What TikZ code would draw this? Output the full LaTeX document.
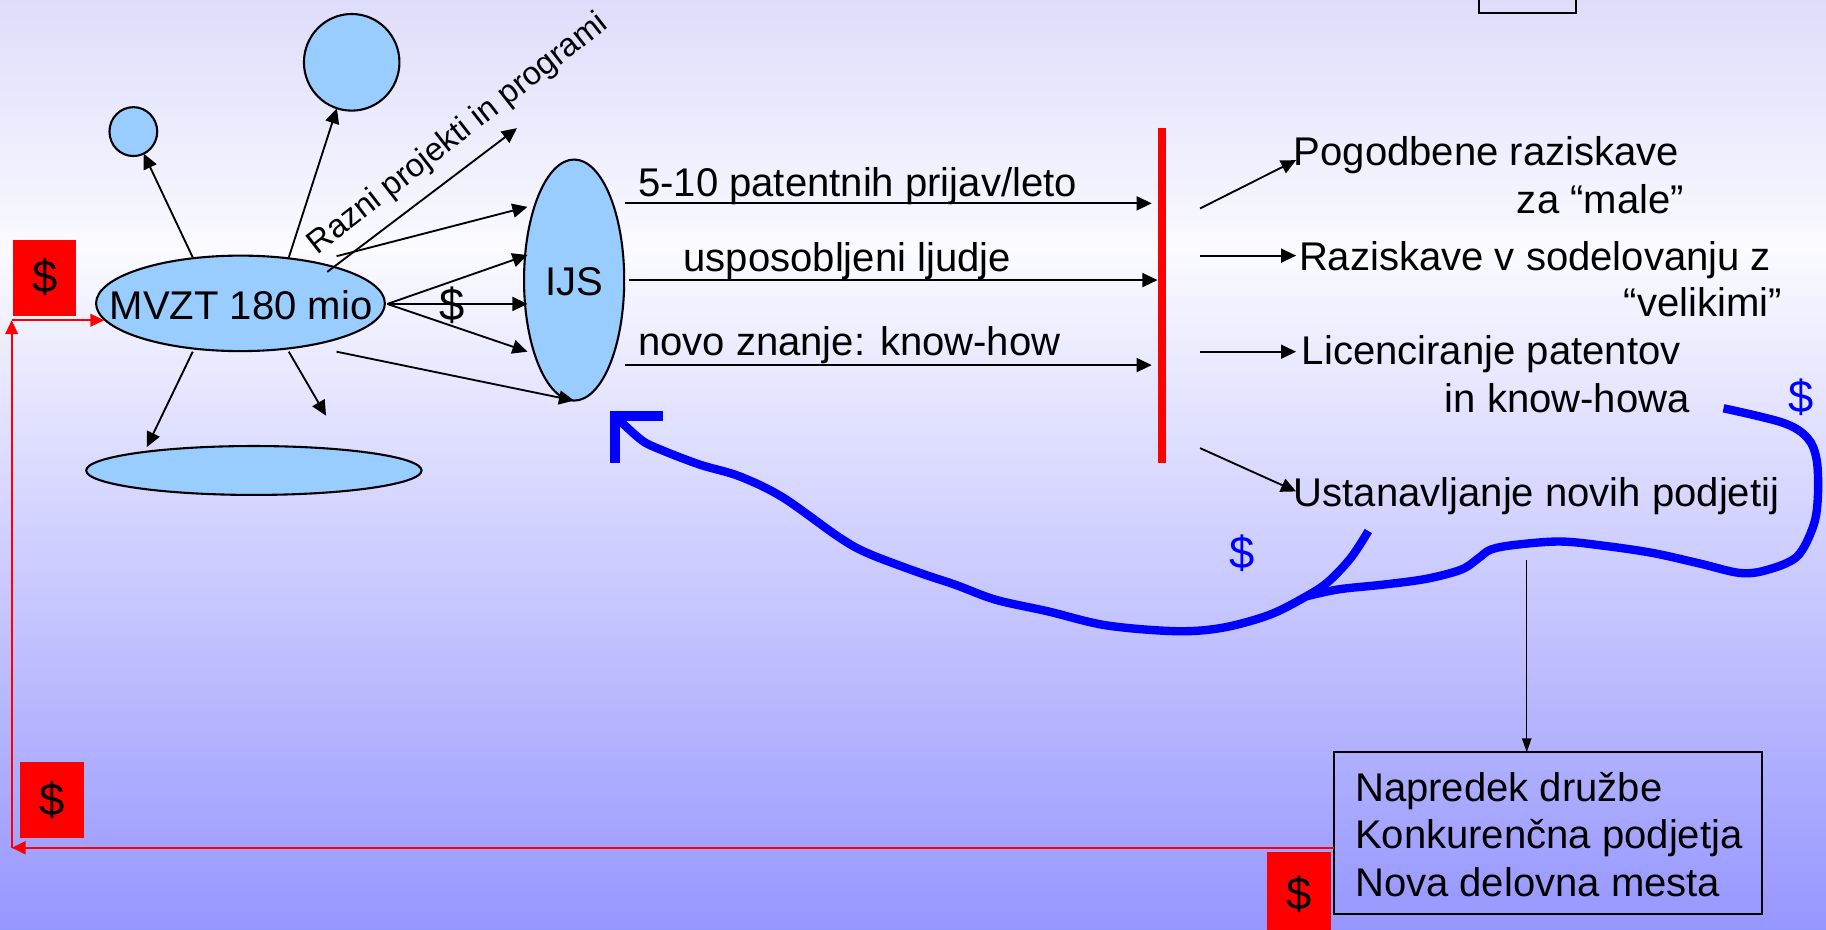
\documentclass[tikz,border=0pt]{standalone}
\usepackage{fontspec}
\setmainfont{Liberation Sans}
\usetikzlibrary{arrows.meta,shapes.geometric}
\definecolor{bgtop}{RGB}{221,221,251}
\definecolor{bgmid}{RGB}{250,250,255}
\definecolor{bgbot}{RGB}{150,150,255}
\definecolor{efill}{RGB}{153,204,255}
\begin{document}
\begin{tikzpicture}[x=0.5pt,y=-0.5pt,
  every node/.style={inner sep=0pt, outer sep=0pt},
  txt/.style={font=\fontsize{17.2pt}{20.5pt}\selectfont},
  dol/.style={font=\fontsize{19.5pt}{22pt}\selectfont},
  ell/.style={ellipse, draw=black, line width=0.9pt, fill=efill},
  arr/.style={draw=black, line width=0.8pt, -{Triangle[length=6.5pt,width=6pt]}},
  thinarr/.style={draw=black, line width=0.6pt, -{Triangle[length=6pt,width=4pt]}},
  redarr/.style={draw=red, line width=0.8pt, -{Triangle[length=6pt,width=5.5pt]}},
  bluecurve/.style={draw=blue, line width=3.6pt, line join=round},
  redbox/.style={fill=red, dol}
]
\useasboundingbox (0,0) rectangle (1568,798);
\fill[top color=bgtop, bottom color=bgmid] (0,0) rectangle (1568,216);
\fill[top color=bgmid, bottom color=bgbot] (0,215) rectangle (1568,798);

% top partial box
\node[draw, line width=0.9pt, minimum width=41.5pt, minimum height=9pt, anchor=south west] (topbox) at (1270,11) {};

% ellipses
\node[ell, minimum width=20.5pt, minimum height=21pt] (sc) at (114.5,113) {};
\node[ell, minimum width=41pt, minimum height=41.5pt] (bc) at (302,53.5) {};
\node[ell, minimum width=124pt, minimum height=41pt] (mvzt) at (206.5,260.5) {};
\node[txt] (mvztl) at (207,262) {MVZT 180 mio};
\node[ell, minimum width=43pt, minimum height=103.5pt] (ijs) at (493,240.5) {};
\node[txt] (ijsl) at (493.5,241.5) {IJS};
\node[ell, minimum width=144pt, minimum height=21pt] (be) at (218,404) {};

% arrows from MVZT
\coordinate (m1) at (165.5,221);
\coordinate (m2) at (248,221);
\coordinate (m3) at (281,233.5);
\coordinate (r3) at (444,110);
\coordinate (m4) at (289,220);
\coordinate (i1) at (453,177.6);
\coordinate (mr) at (332.6,261);
\coordinate (i2) at (453,219);
\coordinate (i3) at (453,261);
\coordinate (i4) at (453,302);
\coordinate (m5) at (289,302);
\coordinate (m6) at (248,302);
\coordinate (d6) at (280,357);
\coordinate (m7) at (165.5,302);
\coordinate (b7) at (126,384);
\draw[arr] (m1) -- (sc);
\draw[arr] (m2) -- (bc);
\draw[arr] (m3) -- (r3);
\draw[arr] (m4) -- (i1);
\draw[arr] (mr) -- (i2);
\draw[arr] (mr) -- (i3);
\draw[arr] (mr) -- (i4);
\draw[arr] (m5) -- (ijs.south);
\draw[arr] (m6) -- (d6);
\draw[arr] (m7) -- (b7);
\node[dol] (dblack) at (388,262) {\$};
\node[font=\fontsize{14pt}{16pt}\selectfont, rotate=38, anchor=base west] (razni) at (273,219) {Razni projekti in programi};

% red bar
\node[fill=red, minimum width=3.5pt, minimum height=144pt] (bar) at (998,254) {};

% IJS -> bar
\coordinate (s1) at (537,174.6);
\coordinate (e1) at (989,174.6);
\coordinate (s2) at (540,240.5);
\coordinate (e2) at (994,240.5);
\coordinate (s3) at (537,313.5);
\coordinate (e3) at (989,313.5);
\draw[arr] (s1) -- (e1);
\draw[arr] (s2) -- (e2);
\draw[arr] (s3) -- (e3);
\node[txt, anchor=base west] (l1) at (548,169) {5-10 patentnih prijav/leto};
\node[txt, anchor=base west] (l2) at (587,233) {usposobljeni ljudje};
\node[txt, anchor=base west] (l3) at (548,305) {novo znanje: know-how};

% right texts
\node[txt, anchor=base west] (t1) at (1111,142) {Pogodbene raziskave};
\node[txt, anchor=base east] (t1b) at (1446,183) {za “male”};
\node[txt, anchor=base west] (t2) at (1115.5,232) {Raziskave v sodelovanju z};
\node[txt, anchor=base east] (t2b) at (1530,272) {“velikimi”};
\node[txt, anchor=base west] (t3) at (1118,313) {Licenciranje patentov};
\node[txt, anchor=base east] (t3b) at (1451,354) {in know-howa};
\node[txt, anchor=base west] (t4) at (1111,435) {Ustanavljanje novih podjetij};

\coordinate (q1) at (1030.5,179);
\coordinate (q1e) at (1113,137.5);
\coordinate (q2) at (1030.5,219.5);
\coordinate (q2e) at (1113,219.5);
\coordinate (q3) at (1030.5,302);
\coordinate (q3e) at (1113,302);
\coordinate (q4) at (1030.5,384.8);
\coordinate (q4e) at (1113,422);
\draw[arr] (q1) -- (q1e);
\draw[arr] (q2) -- (q2e);
\draw[arr] (q3) -- (q3e);
\draw[arr] (q4) -- (q4e);

% blue dollars
\node[dol, text=blue] (bd1) at (1547,341) {\$};
\node[dol, text=blue] (bd2) at (1067,475) {\$};

% blue curves
\draw[blue, line width=4.2pt, line join=miter] (528,398) -- (528,357.4) -- (569,357.4);
\draw[bluecurve] plot[smooth, tension=0.55] coordinates {(1175,456) (1160,479) (1140,500) (1120,513) (1090,528) (1050,539) (1010,542) (950,537) (900,525) (855,515) (820,502) (790,492) (745,475) (720,461) (672,427) (635,409) (601,399) (567,386) (551,378) (531,360)};
\draw[bluecurve] plot[smooth, tension=0.55] coordinates {(1480,350.6) (1531,363) (1552,376) (1560,395) (1561,427) (1557,452) (1543,478) (1517,489.5) (1494,492) (1460,484) (1420,475) (1380,469) (1340,465) (1300,468) (1280,472) (1270,479) (1255,489) (1225,497) (1188,502) (1150,506) (1122,512)};

% bottom box
\node[draw, line width=0.9pt, minimum width=183.75pt, minimum height=69.5pt, anchor=north west] (box) at (1145.5,646) {};
\node[txt, anchor=base west] (bx1) at (1163.6,688) {Napredek družbe};
\node[txt, anchor=base west] (bx2) at (1163.6,728.5) {Konkurenčna podjetja};
\node[txt, anchor=base west] (bx3) at (1163.6,769.5) {Nova delovna mesta};
\coordinate (v1) at (1311,481);
\draw[thinarr] (v1) -- (v1 |- box.north);

% red feedback arrows
\coordinate (rl) at (10,728);
\coordinate (rt) at (10,275);
\coordinate (me) at (89.5,275);
\draw[redarr, line width=1pt] (box.west |- rl) -- (rl);
\draw[redarr] (rl) -- (rt);
\draw[redarr] (rt) -- (me);

% red dollar boxes
\node[redbox, minimum width=27pt, minimum height=32.5pt] (rb1) at (38.5,238.5) {\$};
\node[redbox, minimum width=27.5pt, minimum height=33pt] (rb2) at (44.5,687) {\$};
\node[redbox, minimum width=27.5pt, minimum height=36pt] (rb3) at (1115.5,768) {\$};
\end{tikzpicture}
\end{document}
